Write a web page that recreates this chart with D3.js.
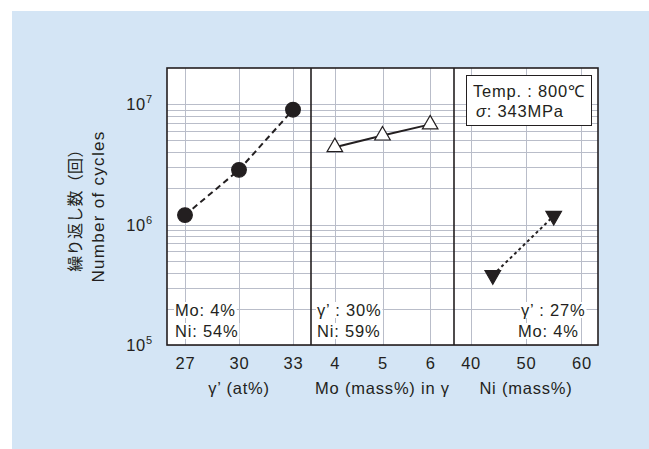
<!DOCTYPE html>
<html><head><meta charset="utf-8">
<script src="https://cdn.jsdelivr.net/npm/d3@7"></script>
<style>
body{margin:0;background:#fff;}
text{font-family:"Liberation Sans",Arial,sans-serif;fill:#231f20;}
</style></head>
<body>
<svg id="c" width="649" height="449"></svg>
<script>
// ---- data ----
const gammaPrime = [27, 30, 33];
const cyclesGamma = [1.2e6, 2.85e6, 9.0e6];
const moContent = [4, 5, 6];
const cyclesMo = [4.4e6, 5.5e6, 6.8e6];
const niContent = [44, 55];
const cyclesNi = [3.8e5, 1.18e6];
const ticksGamma = [27, 30, 33];
const ticksMo = [4, 5, 6];
const ticksNi = [40, 50, 60];
const yTickExp = [5, 6, 7];
const xTitles = ["γ’ (at%)", "Mo (mass%) in γ", "Ni (mass%)"];
const notes = [["Mo: 4%", "Ni: 54%"], ["γ’ : 30%", "Ni: 59%"], ["γ’ : 27%", "Mo: 4%"]];

const FS = 16.5, LS = 0.8;
const svg = d3.select("#c");
svg.append("rect").attr("x",12).attr("y",11).attr("width",637).attr("height",438).attr("fill","#d4e5f5");

const L=167, R=598, T=68, B=345, D1=311, D2=454;
const y = d3.scaleLog().domain([1e5, 2e7]).range([B, T]);
const panels = [
  {x: d3.scaleLinear().domain([26,34]).range([L,D1]), ticks: ticksGamma, xs: gammaPrime, ys: cyclesGamma},
  {x: d3.scaleLinear().domain([3.5,6.5]).range([D1,D2]), ticks: ticksMo, xs: moContent, ys: cyclesMo},
  {x: d3.scaleLinear().domain([37,63]).range([D2,R]), ticks: ticksNi, xs: niContent, ys: cyclesNi}
];

svg.append("rect").attr("x",L).attr("y",T).attr("width",R-L).attr("height",B-T).attr("fill","#fff");

// horizontal gridlines
const gridVals = [];
for (let e=5;e<=7;e++) for (let m=1;m<=9;m++){ const v=m*Math.pow(10,e); if (v<2e7) gridVals.push(v); }
const grid = svg.append("g").attr("stroke","#b9bdc9").attr("stroke-width",1);
grid.selectAll("line.h").data(gridVals).join("line")
  .attr("x1",L).attr("x2",R).attr("y1",d=>Math.round(y(d))+0.5).attr("y2",d=>Math.round(y(d))+0.5);
panels.forEach(p=>{
  grid.append("g").selectAll("line").data(p.ticks).join("line")
    .attr("x1",d=>Math.round(p.x(d))+0.5).attr("x2",d=>Math.round(p.x(d))+0.5).attr("y1",T).attr("y2",B);
});

function txt(sel){ return sel.style("font-size",FS+"px").style("letter-spacing",LS+"px"); }

// annotations with white backgrounds
function note(x, yb, str){
  const t = txt(svg.append("text").attr("x",x).attr("y",yb)).text(str);
  const bb = t.node().getBBox();
  svg.insert("rect", function(){return t.node();}).attr("x",bb.x-1).attr("y",bb.y+1).attr("width",bb.width+2).attr("height",bb.height-2).attr("fill","#fff");
}
note(175, 316, notes[0][0]); note(175, 337, notes[0][1]);
note(317, 316, notes[1][0]); note(317, 337, notes[1][1]);
note(521, 316, notes[2][0]); note(518, 337, notes[2][1]);

// axes
panels.forEach((p,i)=>{
  const ax = svg.append("g").attr("transform",`translate(0,${B})`)
    .call(d3.axisBottom(p.x).tickValues(p.ticks).tickFormat(d3.format("d")).tickSize(0).tickPadding(12));
  ax.select(".domain").remove();
  ax.selectAll("text").attr("font-family",null).attr("fill",null);
  txt(ax.selectAll("text"));
  txt(svg.append("text").attr("x",(p.x.range()[0]+p.x.range()[1])/2).attr("y",394)
    .attr("text-anchor","middle")).text(xTitles[i]);
});

// y tick labels
yTickExp.forEach(e=>{
  const t = txt(svg.append("text").attr("x",153).attr("y",y(Math.pow(10,e))+6).attr("text-anchor","end"));
  t.append("tspan").text("10");
  t.append("tspan").style("font-size","11px").attr("dy",-7).text(String(e));
});

// y title
const yt = svg.append("g").attr("transform",`translate(0,${(T+B)/2}) rotate(-90)`);
yt.append("text").attr("x",0).attr("y",81).attr("text-anchor","middle").style("font-size","16px").style("letter-spacing","0.3px")
  .style("font-family","'Noto Sans CJK JP', sans-serif").text("繰り返し数（回）");
yt.append("text").attr("x",0).attr("y",104).attr("text-anchor","middle").style("font-size","17px").style("letter-spacing","1.3px").text("Number of cycles");

// plot border and dividers
svg.append("rect").attr("x",L).attr("y",T).attr("width",R-L).attr("height",B-T).attr("fill","none").attr("stroke","#231f20").attr("stroke-width",1.6);
[D1,D2].forEach(d=>svg.append("line").attr("x1",d).attr("x2",d).attr("y1",T).attr("y2",B).attr("stroke","#231f20").attr("stroke-width",1.6));

// series
const dash = ["6,4", null, "3,3"];
panels.forEach((p,i)=>{
  const pts = p.xs.map((v,j)=>[p.x(v), y(p.ys[j])]);
  svg.append("path").attr("d", d3.line()(pts)).attr("fill","none").attr("stroke","#231f20").attr("stroke-width",2)
    .attr("stroke-dasharray", dash[i]);
});
const sym = [
  {t:d3.symbolCircle, s:170, fill:"#231f20", rot:0},
  {t:d3.symbolTriangle, s:105, fill:"#fff", rot:0},
  {t:d3.symbolTriangle, s:105, fill:"#231f20", rot:180}
];
panels.forEach((p,i)=>{
  svg.append("g").selectAll("path").data(p.xs).join("path")
    .attr("d", d3.symbol().type(sym[i].t).size(sym[i].s))
    .attr("transform",(d,j)=>`translate(${p.x(d)},${y(p.ys[j])}) rotate(${sym[i].rot})`)
    .attr("fill", sym[i].fill).attr("stroke","#231f20").attr("stroke-width",1.2);
});

// legend box
svg.append("rect").attr("x",466.5).attr("y",75.5).attr("width",125).attr("height",50).attr("fill","#fff").attr("stroke","#231f20").attr("stroke-width",1);
txt(svg.append("text").attr("x",473).attr("y",97)).text("Temp. : 800℃");
const s2 = txt(svg.append("text").attr("x",476).attr("y",117));
s2.append("tspan").style("font-style","italic").text("σ");
s2.append("tspan").text(": 343MPa");
</script>
</body></html>
